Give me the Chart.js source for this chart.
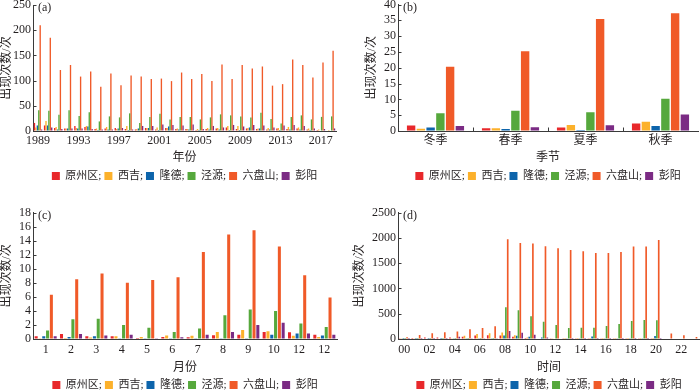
<!DOCTYPE html>
<html lang="zh">
<head>
<meta charset="UTF-8">
<script src="https://cdn.jsdelivr.net/npm/chart.js@4.4.6/dist/chart.umd.min.js"></script>
<title>出现次数</title>
<style>
  html, body { margin: 0; padding: 0; background: #fff; overflow: hidden; }
  .panel { position: absolute; }
</style>
</head>
<body>
<div class="panel" style="left:0;top:0;width:350px;height:195px;"><canvas id="chart-a"></canvas></div>
<div class="panel" style="left:350px;top:0;width:350px;height:195px;"><canvas id="chart-b"></canvas></div>
<div class="panel" style="left:0;top:195px;width:350px;height:212px;"><canvas id="chart-c"></canvas></div>
<div class="panel" style="left:350px;top:195px;width:350px;height:212px;"><canvas id="chart-d"></canvas></div>

<script>
const stations = ['原州区', '西吉', '隆德', '泾源', '六盘山', '彭阳']
const colors = ['#e8282b', '#fcb12b', '#0d64ab', '#56a83c', '#f05a28', '#7b2b84']

// (a) by year
const years = ['1989', '1990', '1991', '1992', '1993', '1994', '1995', '1996', '1997', '1998',
    '1999', '2000', '2001', '2002', '2003', '2004', '2005', '2006', '2007', '2008',
    '2009', '2010', '2011', '2012', '2013', '2014', '2015', '2016', '2017', '2018']
const yearYuanzhou = [16, 11, 6, 5, 10, 8, 4, 5, 6, 4, 3, 6, 3, 6, 4, 4, 2, 4, 5, 7, 4, 5, 4, 3, 5, 4, 5, 3, 2, 1]
const yearXiji = [7, 20, 8, 5, 6, 10, 5, 8, 4, 10, 4, 6, 7, 6, 5, 4, 4, 6, 6, 10, 10, 6, 5, 6, 6, 8, 7, 5, 3, 2]
const yearLongde = [11, 11, 3, 5, 5, 9, 2, 3, 5, 2, 5, 6, 2, 9, 3, 3, 2, 3, 3, 2, 2, 7, 5, 3, 2, 3, 3, 2, 1, 1]
const yearJingyuan = [41, 40, 32, 41, 30, 37, 19, 29, 27, 35, 16, 28, 34, 23, 28, 28, 23, 27, 33, 31, 29, 27, 36, 24, 15, 28, 31, 23, 28, 29]
const yearLiupanshan = [210, 185, 121, 131, 108, 118, 88, 114, 91, 110, 108, 103, 104, 99, 116, 103, 113, 99, 132, 103, 131, 124, 128, 90, 93, 142, 131, 106, 136, 159]
const yearPengyang = [3, 7, 4, 5, 5, 4, 3, 3, 6, 3, 10, 10, 13, 12, 11, 13, 4, 10, 7, 12, 9, 12, 11, 7, 11, 12, 10, 5, 4, 5]

// (b) by season
const seasons = ['冬季', '春季', '夏季', '秋季']
const seasonYuanzhou = [1.7, 0.9, 1.1, 2.4]
const seasonXiji = [0.7, 0.9, 1.9, 2.9]
const seasonLongde = [1.1, 0.6, 0.3, 1.6]
const seasonJingyuan = [5.6, 6.4, 5.9, 10.2]
const seasonLiupanshan = [20.3, 25.2, 35.4, 37.2]
const seasonPengyang = [1.6, 1.2, 1.8, 5.2]

// (c) by month (the source labels the last two groups both "12")
const months = ['1', '2', '3', '4', '5', '6', '7', '8', '9', '10', '12', '12']
const monthYuanzhou = [0.4, 0.7, 0.4, 0.4, 0.15, 0.3, 0.25, 0.55, 0.6, 1.0, 0.95, 0.6]
const monthXiji = [0.1, 0.15, 0.2, 0.4, 0.3, 0.5, 0.45, 1.0, 1.3, 1.1, 0.45, 0.3]
const monthLongde = [0.4, 0.3, 0.4, 0.05, 0.05, 0.05, 0.05, 0.05, 0.1, 0.6, 0.8, 0.5]
const monthJingyuan = [1.2, 2.8, 2.9, 2.0, 1.6, 1.0, 1.5, 3.4, 4.2, 4.0, 2.2, 1.7]
const monthLiupanshan = [6.3, 8.5, 9.35, 8.0, 8.4, 8.8, 12.4, 14.9, 15.5, 13.2, 9.1, 5.9]
const monthPengyang = [0.4, 0.7, 0.5, 0.6, 0.05, 0.25, 0.6, 1.0, 2.0, 2.3, 0.8, 0.6]

// (d) by hour
const hours = ['00', '01', '02', '03', '04', '05', '06', '07', '08', '09', '10', '11',
    '12', '13', '14', '15', '16', '17', '18', '19', '20', '21', '22', '23']
const hourYuanzhou = [5, 20, 30, 30, 30, 45, 70, 75, 70, 45, 20, 10, 5, 3, 3, 3, 3, 3, 3, 3, 3, 0, 0, 0]
const hourXiji = [5, 5, 10, 10, 15, 65, 100, 115, 130, 75, 30, 10, 5, 2, 2, 2, 2, 2, 2, 2, 2, 0, 0, 0]
const hourLongde = [2, 2, 2, 2, 3, 15, 3, 3, 70, 65, 45, 30, 10, 3, 3, 50, 3, 3, 3, 3, 60, 0, 0, 0]
const hourJingyuan = [2, 2, 2, 2, 2, 2, 2, 2, 630, 570, 450, 340, 275, 218, 224, 224, 257, 297, 356, 376, 370, 0, 0, 0]
const hourLiupanshan = [35, 80, 115, 135, 150, 195, 220, 250, 1975, 1900, 1890, 1835, 1795, 1760, 1735, 1700, 1700, 1720, 1830, 1830, 1960, 110, 75, 40]
const hourPengyang = [2, 2, 2, 2, 45, 3, 3, 3, 160, 125, 85, 30, 10, 2, 2, 2, 2, 2, 2, 2, 2, 0, 0, 0]

Chart.defaults.font.family = "'Liberation Serif', 'Noto Sans CJK SC', serif"
Chart.defaults.font.size = 12
Chart.defaults.color = '#231f20'
const axisColor = '#3a3a3a'

// short tick marks pointing into the plot, plus the (a)/(b)... tag
const panelDecor = {
    id: 'panelDecor',
    afterDraw(chart, args, opts) {
        const ctx = chart.ctx
        const area = chart.chartArea
        const y = chart.scales.y
        const x = chart.scales.x
        ctx.save()
        ctx.strokeStyle = axisColor
        ctx.lineWidth = 1
        ctx.beginPath()
        y.ticks.forEach(t => {
            const py = Math.round(y.getPixelForValue(t.value)) + 0.5
            ctx.moveTo(area.left, py)
            ctx.lineTo(area.left + 3.5, py)
        })
        if (opts.xTicks) {
            for (let i = 0; i < x.ticks.length - 1; i++) {
                const px = Math.round((x.getPixelForValue(i) + x.getPixelForValue(i + 1)) / 2) + 0.5
                ctx.moveTo(px, area.bottom)
                ctx.lineTo(px, area.bottom - 3.5)
            }
        }
        ctx.stroke()
        ctx.fillStyle = '#231f20'
        ctx.font = "12px 'Liberation Serif', serif"
        ctx.textBaseline = 'middle'
        ctx.fillText(opts.tag, area.left + 5, area.top + 3)
        ctx.restore()
    }
}

function makePanel(id, p) {
    const datasets = stations.map((name, k) => ({
        label: name,
        data: p.series[k],
        backgroundColor: colors[k],
        borderWidth: 0,
        categoryPercentage: p.cat,
        barPercentage: p.bar
    }))

    new Chart(document.getElementById(id), {
        type: 'bar',
        data: { labels: p.labels, datasets: datasets },
        plugins: [panelDecor],
        options: {
            animation: false,
            maintainAspectRatio: false,
            layout: { padding: p.padding },
            scales: {
                x: {
                    grid: { display: true, drawOnChartArea: false, drawTicks: false },
                    border: { display: true, color: axisColor, width: 1 },
                    ticks: {
                        autoSkip: false,
                        maxRotation: 0,
                        padding: p.xTickPad,
                        callback: function (v, i) {
                            return i % p.every === 0 ? this.getLabelForValue(v) : ''
                        }
                    },
                    title: { display: true, text: p.xTitle, padding: { top: 0, bottom: p.xTitlePad } },
                    afterFit: s => { s.height = p.xHeight; s.paddingLeft = 0; s.paddingRight = 0 }
                },
                y: {
                    min: 0,
                    max: p.yMax,
                    grid: { display: true, drawOnChartArea: false, drawTicks: false },
                    border: { display: true, color: axisColor, width: 1 },
                    ticks: { stepSize: p.step, padding: 2, autoSkip: false, callback: v => String(v) },
                    title: { display: true, text: '出现次数/次', padding: 0 },
                    afterFit: s => { s.width = p.yWidth; s.paddingTop = 0; s.paddingBottom = 0 }
                }
            },
            plugins: {
                legend: {
                    position: 'bottom',
                    fullSize: false,
                    labels: {
                        boxWidth: 8,
                        boxHeight: 8,
                        padding: 3,
                        font: { size: 11 },
                        generateLabels: chart => Chart.defaults.plugins.legend.labels.generateLabels(chart)
                            .map((item, i, all) => Object.assign(item, { text: item.text + (i < all.length - 1 ? ';' : '') }))
                    }
                },
                tooltip: { enabled: false },
                panelDecor: { tag: p.tag, xTicks: p.xTicks }
            }
        }
    })
}

makePanel('chart-a', {
    tag: '(a)', labels: years, every: 4, xTitle: '年份',
    series: [yearYuanzhou, yearXiji, yearLongde, yearJingyuan, yearLiupanshan, yearPengyang],
    yMax: 250, step: 50, cat: 0.85, bar: 0.95,
    padding: { left: 0, right: 14, top: 5, bottom: 3.5 },
    yWidth: 33, xHeight: 36.5, xTickPad: 3, xTitlePad: 2.3
})

makePanel('chart-b', {
    tag: '(b)', labels: seasons, every: 1, xTitle: '季节', xTicks: true,
    series: [seasonYuanzhou, seasonXiji, seasonLongde, seasonJingyuan, seasonLiupanshan, seasonPengyang],
    yMax: 40, step: 5, cat: 0.78, bar: 0.86,
    padding: { left: 15, right: 2, top: 4.5, bottom: 3.5 },
    yWidth: 33, xHeight: 36.5, xTickPad: 3, xTitlePad: 2.3
})

makePanel('chart-c', {
    tag: '(c)', labels: months, every: 1, xTitle: '月份',
    series: [monthYuanzhou, monthXiji, monthLongde, monthJingyuan, monthLiupanshan, monthPengyang],
    yMax: 18, step: 2, cat: 0.9, bar: 0.8,
    padding: { left: 0, right: 13, top: 17.7, bottom: 6.5 },
    yWidth: 33, xHeight: 37.5, xTickPad: 3.8, xTitlePad: 1.3
})

makePanel('chart-d', {
    tag: '(d)', labels: hours, every: 2, xTitle: '时间',
    series: [hourYuanzhou, hourXiji, hourLongde, hourJingyuan, hourLiupanshan, hourPengyang],
    yMax: 2500, step: 500, cat: 0.88, bar: 0.9,
    padding: { left: 3, right: 0, top: 17.7, bottom: 6.5 },
    yWidth: 45, xHeight: 37.5, xTickPad: 3.8, xTitlePad: 1.3
})
</script>
</body>
</html>
